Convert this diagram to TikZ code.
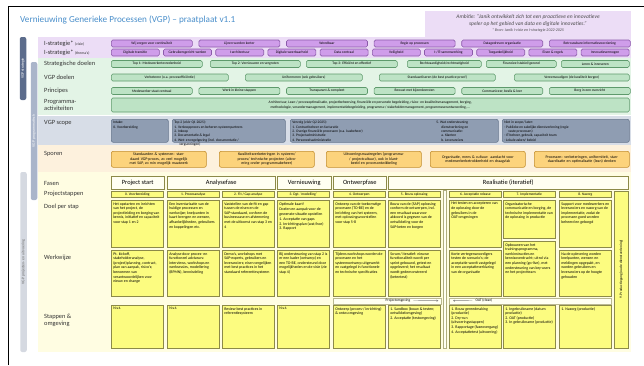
\documentclass[tikz,border=0pt]{standalone}
\usepackage{fontspec}
\setmainfont{Carlito}
\usetikzlibrary{arrows.meta}

\definecolor{titleblue}{HTML}{4A8FCB}
\definecolor{visband}{HTML}{ECDDF6}
\definecolor{visfill}{HTML}{CF9DEA}
\definecolor{visline}{HTML}{8B5AAA}
\definecolor{goalband}{HTML}{E3F4E6}
\definecolor{goalfill}{HTML}{BDE3C5}
\definecolor{goalline}{HTML}{5E9A6C}
\definecolor{scopeband}{HTML}{D7DDE7}
\definecolor{scopefill}{HTML}{8F9DB2}
\definecolor{scopeline}{HTML}{66768C}
\definecolor{trackband}{HTML}{FDF1DD}
\definecolor{trackfill}{HTML}{FCD37C}
\definecolor{trackline}{HTML}{C38E2E}
\definecolor{projband}{HTML}{FFFDE2}
\definecolor{projfill}{HTML}{FCFC80}
\definecolor{projline}{HTML}{8C8A48}
\definecolor{faselight}{HTML}{FFFFF2}
\definecolor{sidedark}{HTML}{5C6C8C}
\definecolor{sidemid}{HTML}{AAB5CA}
\definecolor{sidelight}{HTML}{D5D9E1}

\newcommand\titlefont{\fontsize{9.2}{10}\selectfont}
\newcommand\rowfont{\fontsize{6.4}{6.8}\selectfont}
\newcommand\minifont{\fontsize{3.8}{4.2}\selectfont}
\newcommand\fasefont{\fontsize{6.4}{7}\selectfont}
\newcommand\boxfont{\fontsize{3.6}{4.3}\selectfont}
\newcommand\cellfont{\fontsize{3.9}{4.6}\selectfont}
\newcommand\sidefont{\fontsize{3.8}{4.2}\selectfont}
\newcommand\ambitfont{\fontsize{5.5}{6.3}\selectfont}
\newcommand\topcell[3]{\parbox[c][#2][t]{#1}{\raggedright #3}}

\begin{document}
\begin{tikzpicture}[x=1pt, y=-1pt,
  rowlabel/.style={anchor=west, inner sep=0pt, font=\rowfont, text=black!80, align=left},
  visbox/.style={draw=visline, fill=visfill, rounded corners=1.5pt, line width=0.6pt,
    minimum height=7pt, inner sep=0pt, font=\boxfont, anchor=west},
  goalbox/.style={visbox, draw=goalline, fill=goalfill},
  scopebox/.style={draw=scopeline, fill=scopefill, rounded corners=2pt, line width=0.6pt,
    inner sep=2pt, anchor=north west, font=\boxfont},
  trackbox/.style={draw=trackline, fill=trackfill, rounded corners=2pt, line width=0.6pt,
    inner sep=1pt, anchor=north west, font=\cellfont, align=center, text width=80pt,
    minimum width=95pt, minimum height=16pt},
  fasebox/.style={draw=projline, fill=faselight, line width=0.5pt, inner sep=0pt,
    anchor=north west, font=\fasefont, minimum height=13pt},
  stapbox/.style={draw=projline, fill=projfill, line width=0.6pt, inner sep=0pt,
    anchor=north west, minimum height=6pt, minimum width=52pt, font=\boxfont},
  cellbox/.style={draw=projline, fill=projfill, line width=0.6pt, inner sep=2pt,
    anchor=north west, font=\cellfont},
  omgbox/.style={draw=projline!60, fill=faselight, line width=0.4pt, inner sep=0pt,
    anchor=north west, minimum height=6pt},
  sidebar/.style={rounded corners=2pt, rotate=90, minimum height=6.5pt, inner sep=0pt,
    font=\sidefont}
]
\useasboundingbox (0,0) rectangle (644,365);
\fill[white] (0,0) rectangle (644,365);
\draw[line width=0.8pt] (8,365) -- (8,6) -- (644,6);

\node[anchor=west, inner sep=0pt, font=\titlefont, text=titleblue] (titel) at (20,20)
  {Vernieuwing Generieke Processen (VGP) -- praatplaat v1.1};

% banden
\fill[visband] (425,11) rectangle (631,37);
\fill[visband] (38,37) rectangle (631,58);
\fill[goalband] (38,58) rectangle (631,115);
\fill[scopeband] (38,116) rectangle (631,145);
\fill[trackband] (38,145) rectangle (631,172);
\fill[projband] (38,172) rectangle (631,352);

\node[font=\ambitfont, align=center, text=black!70, inner sep=0pt] (ambitie) at (528,23.5)
  {\itshape Ambitie: ``Janik ontwikkelt zich tot een proactieve en innovatieve\\
   \itshape speler op het gebied van data en digitale innovaties.''\\
   {\fontsize{4}{4.6}\selectfont\itshape * Bron: Janik I-visie en I-strategie 2022-2025}};

% zijbalken
\node[sidebar, fill=sidedark, text=white, minimum width=63pt] (zijstrategie) at (23,68.5) {VGP strategie};
\node[sidebar, fill=sidemid, text=white, minimum width=138pt] (zijprogramma) at (34,131) {VGP programmatisch};
\node[sidebar, fill=sidelight, text=black!60, minimum width=180pt] (zijproject) at (23.5,262) {VGP projecten- en uitvoering};

% I-strategie
\node[rowlabel] (lvisie) at (44,43.5) {I-strategie* {\minifont (visie)}};
\node[rowlabel] (lthema) at (44,52.5) {I-strategie* {\minifont (thema's)}};
\foreach \txt [count=\i] in {{Wij zorgen voor continuïteit}, {Lijnen worden korter}, {Wendbaar},
    {Regie op processen}, {Datagedreven organisatie}, {Betrouwbare informatievoorziening}}
  \node[visbox, minimum width=81pt] (visie\i) at ({111+(\i-1)*87.6},43.5) {\txt};
\foreach \txt [count=\i] in {{Digitale transitie}, {Gebruikersgericht werken}, {I-architectuur},
    {Digitale weerbaarheid}, {Data centraal}, {Veiligheid}, {I-/IT-samenwerking},
    {Toegankelijkheid}, {Eisen \& regels}, {Innovatievermogen}}
  \node[visbox, minimum width=48pt] (thema\i) at ({111+(\i-1)*52.2},52.5) {\txt};

% doelen en principes
\node[rowlabel] (lstrat) at (44,64) {Strategische doelen};
\node[rowlabel] (lvgp) at (44,77.5) {VGP doelen};
\node[rowlabel] (lprinc) at (44,91) {Principes};
\node[rowlabel] (lactiv) at (44,105) {Programma-\\activiteiten};
\foreach \xa/\xb/\txt [count=\i] in {111/202/{Top 1: Medewerkertevredenheid},
    210/300/{Top 2: Vernieuwen en vergroten}, 306/397/{Top 3: Efficiënt en effectief},
    407/481/{Rechtvaardigheid/rechtmatigheid}, 486/556/{Financieel stabiel/gezond},
    561/629/{Leren \& innoveren}}
  \node[goalbox, minimum width={\xb-\xa}] (strat\i) at (\xa,64) {\txt};
\foreach \xa/\xb/\txt [count=\i] in {111/228/{Verbeteren (o.a. procesefficiëntie)},
    245/362/{Uniformeren (ook gebruikers)}, 379/495/{Standaardiseren (de best practice-proof)},
    514/629/{Vereenvoudigen (de kwaliteit borgen)}}
  \node[goalbox, minimum width={\xb-\xa}] (vgpdoel\i) at (\xa,77.5) {\txt};
\foreach \txt [count=\i] in {{Medewerker staat centraal}, {Werk in kleine stappen},
    {Transparant \& compleet}, {Bewust met bijeenkomsten}, {Communiceer, beslis \& leer},
    {Borg in een overzicht}}
  \node[goalbox, minimum width=81pt] (princ\i) at ({111+(\i-1)*87.6},91) {\txt};
\node[goalbox, minimum width=518pt, minimum height=14pt, align=center] (activ) at (111,105)
  {Architectuur, Lean-/ procesoptimalisatie, projectbeheersing, financiële en personele begeleiding, risico- en kwaliteitsmanagement, borging,\\
   methodologie, verandermanagement, implementatiebegeleiding, programma-/ stakeholdermanagement, programmaverantwoording, \dots};

% scope
\node[rowlabel, anchor=north west] (lscope) at (44,120) {VGP scope};
\node[scopebox] (scope1) at (111,119) {\topcell{53pt}{19pt}{Intake:\\0. Voorbereiding}};
\node[scopebox] (scope2) at (172,119) {\topcell{109pt}{19pt}{Top 2 (vóór Q1 2025):\\
  1. Verkoopproces en beheren systeempartners\\2. Inkoop\\3. Documentatie \& legal\\
  4. Wet- en regelgeving (incl. documentatie /\\\hspace*{5pt}vergunningen)}};
\node[scopebox] (scope3) at (290,119) {\topcell{204pt}{19pt}{%
  \parbox[t]{140pt}{\raggedright Vervolg (vóór Q2 2025):\\1. Contractbeheer en facturatie\\
  2. Overige financiële processen (o.a. kasbeheer)\\3. Projectadministratie\\
  4. Personeelsadministratie}\hfill
  \parbox[t]{60pt}{\raggedright 5. Wat ondersteuning\\\hspace*{5pt}dienstverlening en\\
  \hspace*{5pt}communicatie:\\\hspace*{5pt}a. Klanten\\\hspace*{5pt}b. Leveranciers}}};
\node[scopebox] (scope4) at (502,119) {\topcell{123pt}{19pt}{Niet in scope/ later:\\
  - Publieke en zakelijke dienstverlening (regie\\\hspace*{4pt}vaste processen)\\
  - IT-beheer, gebruik, capaciteit team\\- Lokale zaken/ beleid}};

% sporen
\node[rowlabel] (lsporen) at (44,154) {Sporen};
\foreach \xa/\txt [count=\i] in {
    111/{Standaarden \& systemen: standaard VGP-proces, zo veel mogelijk met SAP, zo min mogelijk maatwerk},
    219/{Kwaliteitsverbeteringen in systeem/ proces/ technische projecten (uitvoering onder programmabeheer)},
    326/{Uitvoeringsmaatregelen (programma-/ projectcultuur), ook in klantbeeld en procesontwikkeling},
    430/{Organisatie, mens \& cultuur: aandacht voor medewerkerbetrokkenheid en draagvlak},
    534/{Processen: verbeteringen, uniformiteit, standaardisatie en optimalisatie (lean) denken}}
  \node[trackbox] (spoor\i) at (\xa,151) {\txt};

% projectfasen
\node[rowlabel] (lfasen) at (44,183) {Fasen};
\node[rowlabel] (lstappen) at (44,194) {Projectstappen};
\node[rowlabel, anchor=north west] (ldoel) at (44,204) {Doel per stap};
\node[rowlabel] (lwerk) at (44,258) {Werkwijze};
\node[rowlabel] (lomg) at (44,320) {Stappen \&\\omgeving};
\foreach \xa/\xb/\txt [count=\i] in {111/164/{Project start}, 167/275/{Analysefase},
    277/331/{Vernieuwing}, 333/386/{Ontwerpfase}, 388/628/{Realisatie (iteratief)}}
  \node[fasebox, minimum width={\xb-\xa}] (fase\i) at (\xa,176) {\txt};
\foreach \xa/\txt [count=\i from 0] in {111/{0. Voorbereiding}, 167/{1. Procesanalyse},
    222/{2. Fit / Gap analyse}, 277/{3. Dgt. `modelling'}, 333/{4. Ontwerpen},
    388/{5. Bouw oplossing}, 449/{6. Acceptatie release}, 503/{7. Implementatie},
    559/{8. Nazorg}}
  \node[stapbox] (stap\i) at (\xa,191) {\txt};
\node[draw=projline!70, fill=faselight, line width=0.4pt, minimum width=3pt, minimum height=158pt,
  inner sep=0pt, anchor=north west] (scheiding) at (443,190) {};
\node[draw=projline, fill=projfill, line width=0.6pt, rotate=90, minimum width=157pt,
  minimum height=14pt, inner sep=0pt, font=\boxfont] (stap9) at (621,269.5)
  {9. Productiegang (oude dienstverlening)};

% doel per stap
\foreach \xa/\hd/\txt [count=\i from 0] in {
  111/43/{Het opstarten en inrichten van het project, de projectleiding en borging van kennis, initiatief en capaciteit voor stap 1 en 2},
  167/43/{Een inventarisatie van de huidige processen en werkwijze; knelpunten in kaart brengen en wensen, afhankelijkheden, gebruikers en koppelingen etc.},
  222/43/{Vaststellen van de fit en gap tussen de eisen en de SAP-standaard, conform de businesscase en afstemming met de uitkomst van stap 3 en 4},
  277/43/{Optimale kaart!\\[0.8pt]Doelen en aanpak voor de gewenste situatie opstellen\\[0.8pt]1. Acceptatie van gaps\\2. Inrichtingsplan (wat/hoe)\\3. Rapport},
  333/43/{Ontwerp van de toekomstige processen (TO-BE) en de inrichting van het systeem, met oplossings\-voorstellen voor stap 5-8},
  388/43/{Bouw van de (SAP) oplossing conform de ontwerpen, incl. een resultaat waarvoor akkoord is gegeven van de ontwikkeling voor de SAP-keten en borgen},
  449/43/{Het testen en accepteren van de oplossing door de gebruikers in de OAT-omgevingen},
  503/34/{Organisatorische communicatie en borging, de technische implementatie van de oplossing in productie},
  559/43/{Support voor medewerkers en leveranciers en nazorg van de implementatie, zodat de processen goed worden beheerd en geborgd}}
  \node[cellbox] (doel\i) at (\xa,200) {\topcell{48pt}{\hd pt}{\txt}};

% werkwijze
\foreach \xa/\ya/\hw/\txt [count=\i from 0] in {
  111/250/42/{Pt. kickoff, stakeholder\-analyse, (project)planning, contract, plan van aanpak, risico's; benoemen van verantwoordelijken voor nieuw en change},
  167/250/42/{Analyse door proces- en functioneel adviseurs: interviews, workshops en werksessies, modellering (BPMN), kennisdeling},
  222/250/42/{Demo's, workshops met SAP-experts, gebruikers en leveranciers; eisen vergelijken met best practices in het standaard referentiesysteem},
  277/250/42/{Bij ondersteuning van stap 2 is er een kader (ontwerp) en een TO-BE, ondersteund door mogelijkheden en de visie (zie stap 4)},
  333/250/42/{Tijdens workshops worden de processen en het systeemontwerp uitgewerkt en vastgelegd in functionele en technische specificaties},
  388/250/42/{Scrum/ iteratief: nieuwe functionaliteit wordt per sprint gebouwd, getest en opgeleverd; het resultaat wordt gedemonstreerd (ketentest)},
  449/250/42/{Korte vertegenwoordigers testen de scenario's; de acceptatie wordt vastgelegd in een acceptatie\-verklaring van de organisatie},
  503/241/51/{Opbouwen van het trainings\-programma, werkinstructies en kennisoverdracht; uitrol via een planning (go-live), met ondersteuning van key-users en het projectteam},
  559/250/42/{Na de oplevering worden knelpunten, wensen en meldingen opgepakt, en worden gebruikers en leveranciers op de hoogte gehouden}}
  \node[cellbox] (werk\i) at (\xa,\ya) {\topcell{48pt}{\hw pt}{\txt}};

% omgevingen
\node[omgbox, minimum width=108pt] (projomg) at (333,297.5) {};
\node[omgbox, minimum width=162pt] (oat) at (449,297.5) {};
\node[font=\boxfont, inner sep=0pt] (projomgt) at (398,300.5) {Projectomgeving};
\node[font=\boxfont, inner sep=0pt] (oatt) at (484,300.5) {OAT (clean)};
\draw[gray, -{Stealth[length=2pt,width=2pt]}] ([xshift=3pt]projomgt.east) -- ([xshift=-3pt]projomg.east);
\draw[gray, -{Stealth[length=2pt,width=2pt]}] ([xshift=-3pt]oatt.west) -- ([xshift=4pt]oat.west);

% stappen en omgeving
\foreach \xa/\txt [count=\i from 0] in {111/{N.v.t.}, 167/{N.v.t.},
  222/{Review best practices in referentiesysteem}, 277/{N.v.t.},
  333/{Ontwerp (proces-/ inrichting) \& ontw.omgeving},
  388/{1. Sandbox (bouw \& testen; ontwikkel\-omgeving)\\2. Acceptatie (test\-omgeving)},
  449/{1. Bouw gereed\-making (productie)\\2. Dry-run (uitvoerings\-stappen)\\3. Rapportage (fase\-overgang)\\4. Acceptatietest (uitvoering)},
  503/{1. Ingebruikname (datum productie)\\2. OAT (productie)\\3. In gebruikname (productie)},
  559/{1. Nazorg (productie)}}
  \node[cellbox] (omg\i) at (\xa,305) {\topcell{48pt}{39pt}{\txt}};
\end{tikzpicture}
\end{document}
